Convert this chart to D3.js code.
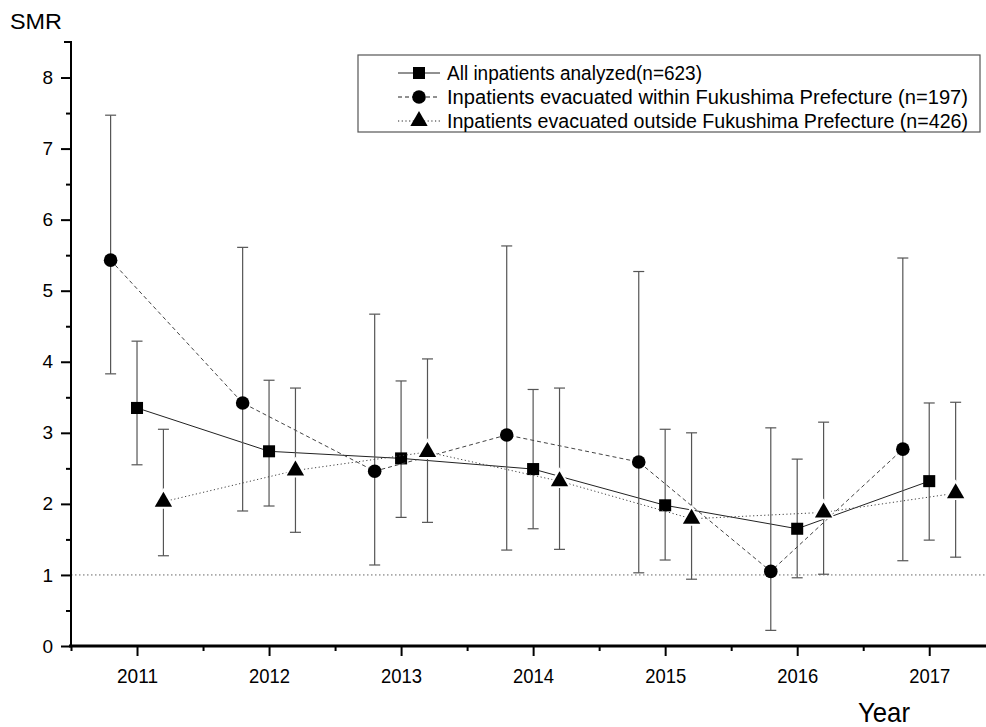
<!DOCTYPE html>
<html>
<head>
<meta charset="utf-8">
<script src="https://cdn.jsdelivr.net/npm/d3@7"></script>
<style>
  body { margin: 0; background: #fff; }
  svg { display: block; }
  text { font-family: "Liberation Sans", Arial, sans-serif; }
</style>
</head>
<body>
<script>
const years = [2011, 2012, 2013, 2014, 2015, 2016, 2017];

// All inpatients analyzed (n=623)
const allSmr = [3.35, 2.74, 2.64, 2.49, 1.98, 1.65, 2.32];
const allHi  = [4.29, 3.74, 3.73, 3.61, 3.05, 2.63, 3.42];
const allLo  = [2.55, 1.97, 1.81, 1.65, 1.21, 0.96, 1.49];

// Evacuated within Fukushima (n=197)
const inSmr = [5.43, 3.42, 2.46, 2.97, 2.59, 1.05, 2.77];
const inHi  = [7.47, 5.61, 4.67, 5.63, 5.27, 3.07, 5.46];
const inLo  = [3.83, 1.90, 1.14, 1.35, 1.03, 0.22, 1.20];

// Evacuated outside Fukushima (n=426)
const outSmr = [2.03, 2.47, 2.73, 2.32, 1.79, 1.88, 2.15];
const outHi  = [3.05, 3.63, 4.04, 3.63, 3.00, 3.15, 3.43];
const outLo  = [1.27, 1.60, 1.74, 1.36, 0.94, 1.01, 1.25];

const yTicks = [0, 1, 2, 3, 4, 5, 6, 7, 8];
const legendLabels = [
  "All inpatients analyzed(n=623)",
  "Inpatients evacuated within Fukushima Prefecture (n=197)",
  "Inpatients evacuated outside Fukushima Prefecture (n=426)"
];

const W = 986, H = 727;
const svg = d3.select("body").append("svg")
  .attr("width", W)
  .attr("height", H);

const x = d3.scaleLinear().domain([2010.5, 2017.43]).range([71, 986]);
const y = d3.scaleLinear().domain([0, 8.5]).range([646, 42]);

// reference line at SMR = 1
svg.append("line")
  .attr("x1", x(2010.5)).attr("x2", W)
  .attr("y1", y(1)).attr("y2", y(1))
  .attr("stroke", "#666")
  .attr("stroke-width", 1)
  .attr("stroke-dasharray", "1.5,2.5");

// axes
const minorY = d3.range(0.5, 8.5, 1);
svg.append("g")
  .attr("transform", `translate(${x(2010.5)},0)`)
  .call(d3.axisLeft(y).tickValues(minorY).tickSize(5).tickFormat(""))
  .call(g => g.select(".domain").remove())
  .selectAll("line").attr("stroke-width", 2);

const yAxis = svg.append("g")
  .attr("transform", `translate(${x(2010.5)},0)`)
  .call(d3.axisLeft(y).tickValues(yTicks).tickSize(10).tickSizeOuter(0).tickPadding(8));
yAxis.select(".domain").attr("stroke-width", 2).attr("d", `M-7,${y(8.5)}H0V${y(0)}`);
yAxis.selectAll("line").attr("stroke-width", 2);
yAxis.selectAll("text")
  .attr("font-family", "Liberation Sans, Arial, sans-serif")
  .attr("font-size", 19).attr("fill", "#000");

const minorX = d3.range(2010.5, 2017.5, 1);
svg.append("g")
  .attr("transform", `translate(0,${y(0)})`)
  .call(d3.axisBottom(x).tickValues(minorX).tickSize(5).tickFormat(""))
  .call(g => g.select(".domain").remove())
  .selectAll("line").attr("stroke-width", 2);

const xAxis = svg.append("g")
  .attr("transform", `translate(0,${y(0)})`)
  .call(d3.axisBottom(x).tickValues(years).tickSize(10).tickSizeOuter(0).tickPadding(12).tickFormat(d3.format("d")));
xAxis.select(".domain").attr("stroke-width", 3).attr("d", `M${x(2010.5) - 2},0H${W}`);
xAxis.selectAll("line").attr("stroke-width", 2);
xAxis.selectAll("text")
  .attr("font-family", "Liberation Sans, Arial, sans-serif")
  .attr("font-size", 21).attr("fill", "#000")
  .attr("textLength", 41).attr("lengthAdjust", "spacingAndGlyphs");

svg.append("text")
  .attr("x", 10).attr("y", 29)
  .attr("font-size", 22)
  .attr("textLength", 52).attr("lengthAdjust", "spacingAndGlyphs")
  .text("SMR");

svg.append("text")
  .attr("x", 858).attr("y", 722)
  .attr("font-size", 28)
  .attr("textLength", 52).attr("lengthAdjust", "spacingAndGlyphs")
  .text("Year");

const series = [
  { smr: allSmr, hi: allHi, lo: allLo, off: 0, dash: null, shape: d3.symbolSquare, size: 145 },
  { smr: inSmr, hi: inHi, lo: inLo, off: -0.2, dash: "4,3", shape: d3.symbolCircle, size: 145 },
  { smr: outSmr, hi: outHi, lo: outLo, off: 0.2, dash: "1.2,2.5", shape: d3.symbolTriangle, size: 130 }
];
const legendWidths = [255, 521, 521];

const line = d3.line().x(d => x(d.x)).y(d => y(d.v));

series.forEach(s => {
  const pts = years.map((yr, i) => ({ x: yr + s.off, v: s.smr[i], hi: s.hi[i], lo: s.lo[i] }));

  const eb = svg.append("g").attr("stroke", "#555").attr("stroke-width", 1.2);
  pts.forEach(p => {
    eb.append("line").attr("x1", x(p.x)).attr("x2", x(p.x)).attr("y1", y(p.hi)).attr("y2", y(p.lo));
    eb.append("line").attr("x1", x(p.x) - 5.5).attr("x2", x(p.x) + 5.5).attr("y1", y(p.hi)).attr("y2", y(p.hi));
    eb.append("line").attr("x1", x(p.x) - 5.5).attr("x2", x(p.x) + 5.5).attr("y1", y(p.lo)).attr("y2", y(p.lo));
  });

  svg.append("path")
    .datum(pts)
    .attr("d", line)
    .attr("fill", "none")
    .attr("stroke", s.dash ? "#444" : "#222")
    .attr("stroke-width", 1)
    .attr("stroke-dasharray", s.dash);

  const g = svg.append("g");
  if (s.shape === d3.symbolTriangle) {
    // white halo around triangles, as in the original
    g.selectAll(".halo")
      .data(pts)
      .join("path")
      .attr("class", "halo")
      .attr("transform", d => `translate(${x(d.x)},${y(d.v)})`)
      .attr("d", d3.symbol().type(s.shape).size(s.size * 1.9))
      .attr("fill", "#fff");
  }
  g.selectAll(".mark")
    .data(pts)
    .join("path")
    .attr("class", "mark")
    .attr("transform", d => `translate(${x(d.x)},${y(d.v)})`)
    .attr("d", d3.symbol().type(s.shape).size(s.size))
    .attr("fill", "#000");
});

// legend
const legend = svg.append("g").attr("transform", "translate(358,55)");
legend.append("rect")
  .attr("width", 622).attr("height", 77)
  .attr("fill", "#fff")
  .attr("stroke", "#555")
  .attr("stroke-width", 1.2);

series.forEach((s, i) => {
  const row = legend.append("g").attr("transform", `translate(0,${18 + i * 24})`);
  row.append("line")
    .attr("x1", 40).attr("x2", 82)
    .attr("stroke", "#222")
    .attr("stroke-width", 1)
    .attr("stroke-dasharray", s.dash);
  row.append("path")
    .attr("transform", "translate(61,0)")
    .attr("d", d3.symbol().type(s.shape).size(s.size))
    .attr("fill", "#000");
  row.append("text")
    .attr("x", 89).attr("y", 7)
    .attr("font-size", 20)
    .attr("textLength", legendWidths[i]).attr("lengthAdjust", "spacingAndGlyphs")
    .text(legendLabels[i]);
});
</script>
</body>
</html>
